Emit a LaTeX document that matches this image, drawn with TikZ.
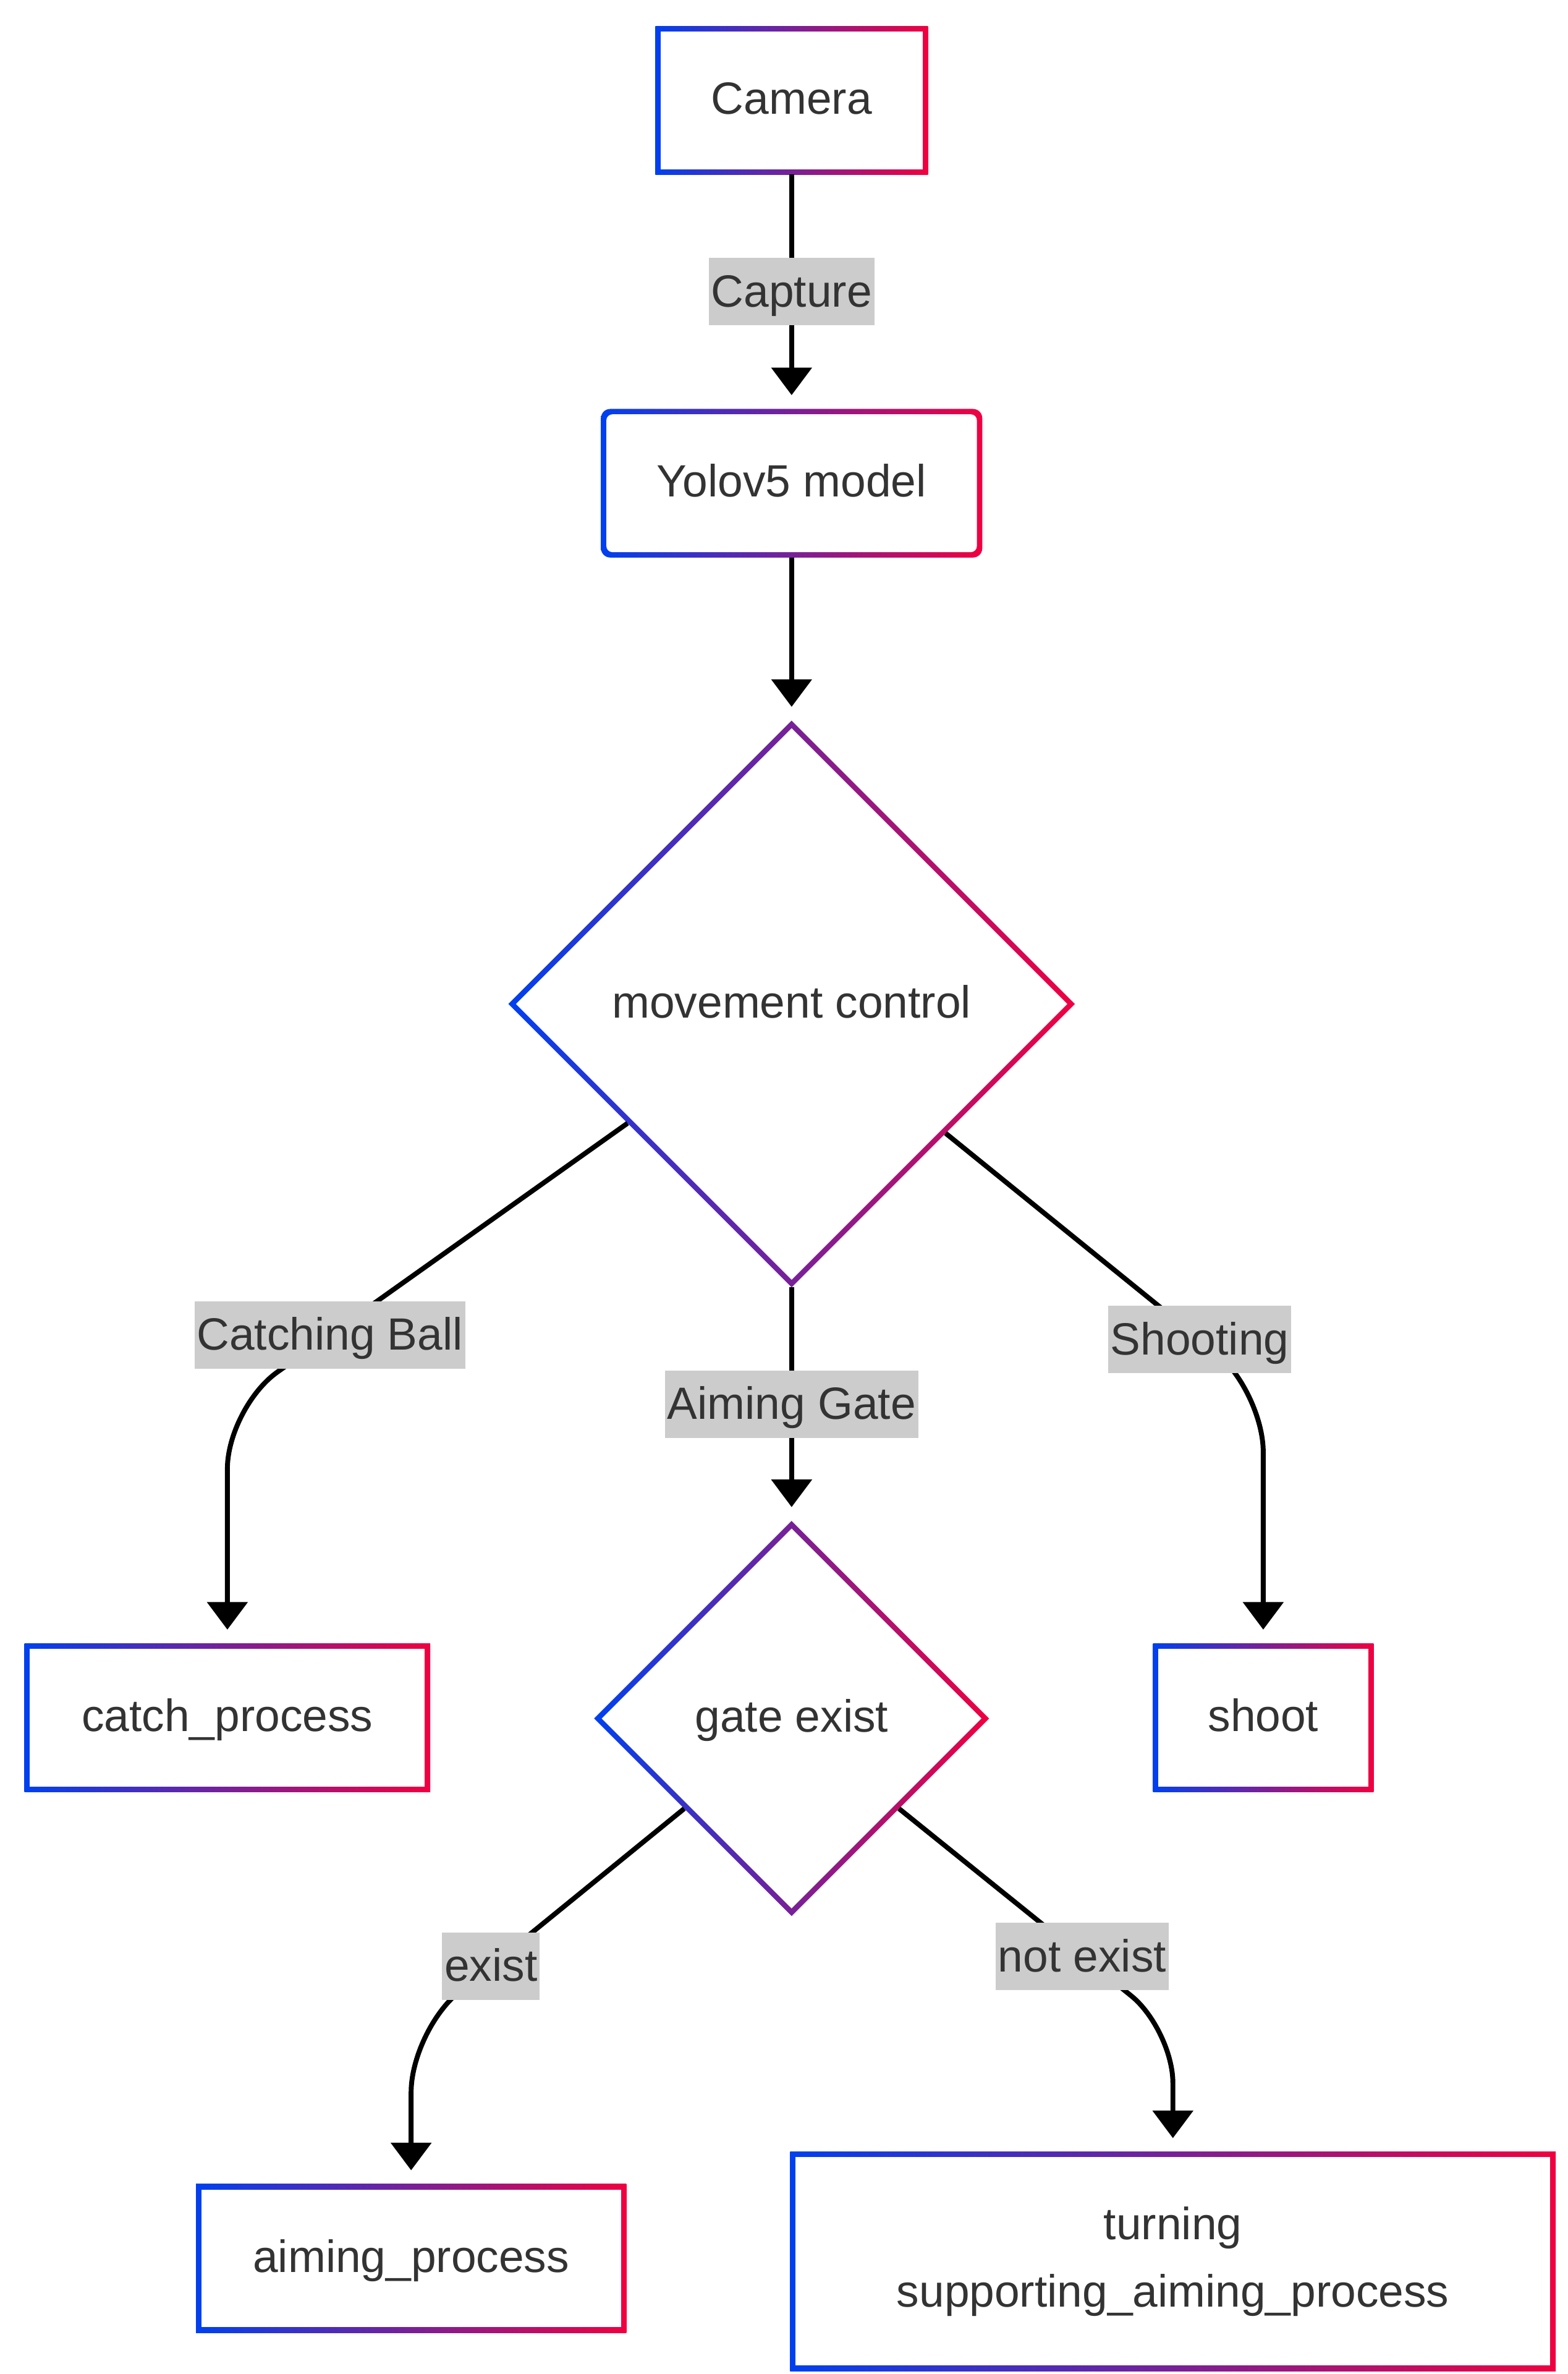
\documentclass[tikz,border=0pt]{standalone}
\usepackage{fontspec}
\setmainfont{Liberation Sans}
\usetikzlibrary{arrows.meta,shapes.geometric}
\definecolor{cblue}{RGB}{0,64,240}
\definecolor{cred}{RGB}{240,0,64}
\definecolor{ctext}{RGB}{51,51,51}
\definecolor{lblgray}{RGB}{204,204,204}
\begin{document}
\begin{tikzpicture}[x=1pt, y=-1pt, >={Triangle[length=18pt,width=26pt]},
	font=\fontsize{29.5}{46}\selectfont,
	caixa/.style={rectangle, inner sep=0pt, outer sep=0pt, minimum height=97pt,
		left color=cblue, right color=cred, text=ctext, text height=20pt, text depth=2pt,
		path picture={\fill[white] ([shift={(3.5pt,-3.5pt)}]path picture bounding box.north west) rectangle ([shift={(-3.5pt,3.5pt)}]path picture bounding box.south east);}},
	caixa redonda/.style={caixa, rounded corners=6pt,
		path picture={\fill[white, rounded corners=4pt] ([shift={(3.5pt,-3.5pt)}]path picture bounding box.north west) rectangle ([shift={(-3.5pt,3.5pt)}]path picture bounding box.south east);}},
	losango/.style={diamond, aspect=1, inner sep=0pt, outer sep=0pt,
		left color=cblue, right color=cred, text=ctext, text height=20pt, text depth=2pt,
		path picture={\fill[white] ([yshift=-5pt]path picture bounding box.north) -- ([xshift=-5pt]path picture bounding box.east) -- ([yshift=5pt]path picture bounding box.south) -- ([xshift=5pt]path picture bounding box.west) -- cycle;}},
	rotulo/.style={sharp corners, fill=lblgray, text=ctext, inner xsep=1.5pt, inner ysep=7pt, text height=25pt, text depth=5pt},
	seta/.style={->, line width=3.2pt, shorten >=9pt}]
	\useasboundingbox (0,0) rectangle (1024,1550);
	
	% Caixas
	\node[caixa, minimum width=178pt] (camera) at (517,65.5) {Camera};
	\node[caixa redonda, minimum width=249pt] (yolo) at (517,315.5) {Yolov5 model};
	\node[losango, minimum width=370pt, minimum height=370pt] (mov) at (517,655.5) {movement control};
	\node[caixa, minimum width=265pt] (catch) at (148.5,1121.5) {catch\_process};
	\node[losango, minimum width=258pt, minimum height=258pt] (gate) at (517,1122) {gate exist};
	\node[caixa, minimum width=144pt] (shoot) at (825,1121.5) {shoot};
	\node[caixa, minimum width=281pt] (aiming) at (268.5,1474.5) {aiming\_process};
	\node[caixa, minimum width=500pt, minimum height=143pt, align=center, text height={}, text depth={}, font=\fontsize{29.5}{44}\selectfont, yshift=-2pt] (turning) at (766,1474.5) {turning\\supporting\_aiming\_process};
	
	% Dobras
	\coordinate (dobraC) at (148.5,919);
	\coordinate (dobraS) at (825,908);
	\coordinate (dobraE) at (268.5,1326);
	\coordinate (dobraN) at (766,1325);
	
	% Setas com rotulos
	\draw[seta] (camera) -- node[rotulo] (lcapt) {Capture} (yolo);
	\draw[seta] (yolo) -- (mov);
	\draw[seta, rounded corners=40pt] (mov.216) -- node[rotulo, pos=0.744] (lcatch) {Catching Ball} (dobraC) -- (catch);
	\draw[seta] (mov) -- node[rotulo] (laim) {Aiming Gate} (gate);
	\draw[seta, rounded corners=40pt] (mov.320) -- node[rotulo, pos=0.8] (lshoot) {Shooting} (dobraS) -- (shoot);
	\draw[seta, rounded corners=40pt] (gate.220) -- node[rotulo, pos=0.708] (lexist) {exist} (dobraE) -- (aiming);
	\draw[seta, rounded corners=35pt] (gate.320) -- node[rotulo, pos=0.669] (lnot) {not exist} (dobraN) -- (turning);
\end{tikzpicture}
\end{document}
